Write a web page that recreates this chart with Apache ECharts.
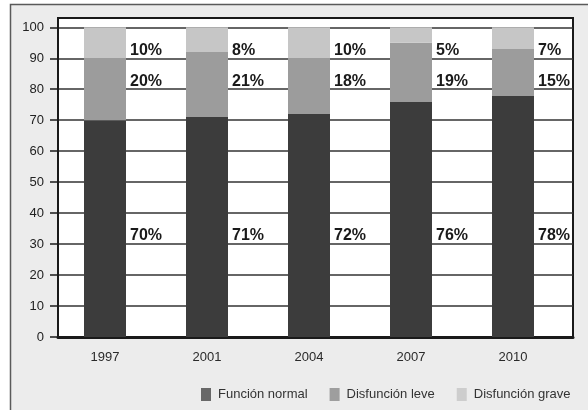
<!DOCTYPE html>
<html>
<head>
<meta charset="utf-8">
<script src="https://cdn.jsdelivr.net/npm/echarts@6/dist/echarts.min.js"></script>
<style>
  html, body { margin: 0; padding: 0; background: #fff; }
  #chart { width: 588px; height: 410px; }
</style>
</head>
<body>
<div id="chart"></div>
<script>
// Survey years and share (%) of each function group
const years = ['1997', '2001', '2004', '2007', '2010'];
const funcionNormal = [70, 71, 72, 76, 78];
const disfuncionLeve = [20, 21, 18, 19, 15];
const disfuncionGrave = [10, 8, 10, 5, 7];
const seriesNames = ['Función normal', 'Disfunción leve', 'Disfunción grave'];
const yTicks = [0, 10, 20, 30, 40, 50, 60, 70, 80, 90, 100];

const FONT = '"Liberation Sans", Arial, sans-serif';
const barColors = ['#3c3c3c', '#9c9c9c', '#c6c6c6'];
const legendColors = ['#686868', '#9e9e9e', '#cdcdcd'];
const labelLevels = [30, 80, 90]; // gridline each percentage label sits on
const Y_MAX = 103;

const groups = [funcionNormal, disfuncionLeve, disfuncionGrave];

const barSeries = groups.map((vals, k) => ({
  name: seriesNames[k],
  type: 'bar',
  stack: 'total',
  xAxisIndex: 1,
  yAxisIndex: 1,
  barWidth: 42,
  itemStyle: { color: barColors[k] },
  data: vals,
  z: 3
}));

// value labels placed beside each bar, resting on a gridline
const labelSeries = groups.map((vals, k) => ({
  name: 'etiqueta' + k,
  type: 'scatter',
  xAxisIndex: 1,
  yAxisIndex: 1,
  symbolSize: 1,
  itemStyle: { color: 'rgba(0,0,0,0)', opacity: 1 },
  silent: true,
  z: 4,
  label: {
    show: true,
    position: [25.5, 0.5],
    align: 'left',
    verticalAlign: 'bottom',
    fontFamily: FONT,
    fontWeight: 'bold',
    fontSize: 16,
    color: '#1a1a1a',
    formatter: p => vals[p.dataIndex] + '%'
  },
  data: vals.map((v, i) => [i, labelLevels[k]])
}));

const chart = echarts.init(document.getElementById('chart'), null, { renderer: 'canvas' });
chart.setOption({
  backgroundColor: '#ffffff',
  animation: false,
  textStyle: { fontFamily: FONT },
  graphic: [{
    type: 'rect',
    z: -100,
    silent: true,
    shape: { x: 10.5, y: 4.5, width: 620, height: 430 },
    style: { fill: '#ececec', stroke: '#5a5a5a', lineWidth: 1.5 }
  }],
  grid: [
    { left: 58, right: 15, top: 18, bottom: 73, show: true,
      backgroundColor: '#ffffff', borderColor: '#1a1a1a', borderWidth: 2 },
    { left: 54, right: 24, top: 18, bottom: 73 }
  ],
  xAxis: [
    { type: 'value', gridIndex: 0, min: 0, max: 1,
      axisLine: { show: true, onZero: false, lineStyle: { color: '#1a1a1a', width: 3 } },
      axisTick: { show: false }, axisLabel: { show: false }, splitLine: { show: false } },
    { type: 'category', gridIndex: 1, data: years,
      axisLine: { show: false }, axisTick: { show: false },
      axisLabel: { margin: 14, fontSize: 13, color: '#2a2a2a', fontFamily: FONT } }
  ],
  yAxis: [
    { type: 'value', gridIndex: 0, min: 0, max: Y_MAX, interval: 10,
      axisLine: { show: true, lineStyle: { color: '#1a1a1a', width: 2 } },
      axisTick: { show: true, length: 8, customValues: yTicks,
        lineStyle: { color: '#1a1a1a', width: 1.5 } },
      axisLabel: { margin: 14, fontSize: 13, color: '#222', fontFamily: FONT, customValues: yTicks },
      splitLine: { show: true, lineStyle: { color: '#333', width: 1.5 } } },
    { type: 'value', gridIndex: 1, min: 0, max: Y_MAX, show: false, splitLine: { show: false } }
  ],
  legend: {
    left: 196,
    top: 383,
    icon: 'rect',
    itemWidth: 10,
    itemHeight: 13,
    itemGap: 22,
    textStyle: { fontSize: 13, color: '#333', fontFamily: FONT, padding: [0, 0, 0, 2] },
    data: seriesNames.map((n, k) => ({ name: n, itemStyle: { color: legendColors[k] } }))
  },
  series: barSeries.concat(labelSeries)
});
</script>
</body>
</html>
